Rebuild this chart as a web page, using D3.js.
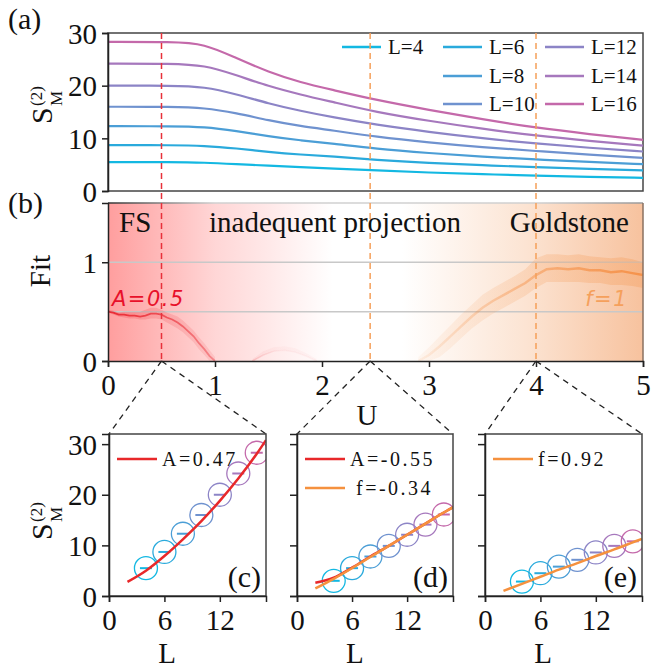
<!DOCTYPE html>
<html>
<head>
<meta charset="utf-8">
<script src="https://cdn.jsdelivr.net/npm/d3@7"></script>
<style>
  body { margin: 0; background: #fff; }
  svg text { font-family: "Liberation Serif", "Times New Roman", serif; fill: #111; }
</style>
</head>
<body>
<div id="chart"></div>
<script>
// ---- data ----
var sizes = [4, 6, 8, 10, 12, 14, 16];
var colors = ["#13b8e2", "#2aaadc", "#4b9ed6", "#6f92cf", "#8c84c6", "#a678bd", "#c469aa"];

// panel (a): S_M^(2) vs U
var uGrid = [0, 0.6, 0.9, 1.2, 1.5, 1.8, 2.1, 2.5, 3.0, 3.5, 4.0, 4.5, 5.0];
var sVals = [
  [5.5, 5.5, 5.4, 5.1, 4.8, 4.5, 4.3, 3.9, 3.5, 3.2, 2.9, 2.7, 2.5],
  [8.7, 8.7, 8.6, 8.1, 7.4, 6.9, 6.6, 5.9, 5.3, 4.9, 4.5, 4.2, 3.9],
  [12.3, 12.3, 12.2, 11.4, 10.4, 9.6, 9.0, 8.0, 7.2, 6.5, 6.0, 5.5, 5.1],
  [16.0, 16.0, 15.8, 14.8, 13.4, 12.3, 11.5, 10.3, 9.2, 8.3, 7.6, 6.9, 6.3],
  [20.0, 20.0, 19.8, 18.4, 16.6, 15.2, 14.0, 12.6, 11.2, 10.0, 9.0, 8.2, 7.5],
  [24.2, 24.2, 23.9, 22.0, 19.9, 18.3, 16.9, 15.0, 13.3, 11.8, 10.5, 9.5, 8.6],
  [28.3, 28.3, 28.0, 25.2, 22.6, 20.6, 19.2, 17.3, 15.4, 13.6, 12.0, 10.8, 9.7]
];

// panel (b): fit quality
var aU  = [0, 0.05, 0.1, 0.15, 0.2, 0.25, 0.3, 0.35, 0.4, 0.45, 0.5, 0.55, 0.6, 0.65, 0.7, 0.75, 0.8, 0.85, 0.9, 0.95, 1.0];
var aFit = [0.50, 0.49, 0.47, 0.47, 0.46, 0.46, 0.45, 0.46, 0.48, 0.48, 0.47, 0.44, 0.42, 0.39, 0.35, 0.30, 0.25, 0.18, 0.12, 0.05, 0.00];
var aLo = [0.49, 0.47, 0.45, 0.44, 0.43, 0.43, 0.42, 0.42, 0.43, 0.43, 0.42, 0.39, 0.36, 0.33, 0.29, 0.24, 0.19, 0.12, 0.06, 0.00, 0.00];
var aHi = [0.52, 0.51, 0.49, 0.50, 0.50, 0.50, 0.50, 0.52, 0.54, 0.54, 0.52, 0.49, 0.47, 0.45, 0.41, 0.36, 0.31, 0.24, 0.18, 0.11, 0.04];
var bU  = [1.35, 1.45, 1.55, 1.65, 1.75, 1.85, 1.95];
var bFit = [0.00, 0.06, 0.10, 0.11, 0.09, 0.05, 0.00];
var bHi = [0.02, 0.10, 0.14, 0.15, 0.13, 0.08, 0.02];
var fU  = [2.9, 3.0, 3.1, 3.2, 3.3, 3.4, 3.5, 3.6, 3.7, 3.8, 3.9, 4.0, 4.1, 4.2, 4.3, 4.4, 4.5, 4.6, 4.7, 4.8, 4.9, 5.0];
var fFit = [0.00, 0.06, 0.15, 0.25, 0.35, 0.45, 0.54, 0.61, 0.67, 0.73, 0.79, 0.87, 0.93, 0.94, 0.93, 0.94, 0.92, 0.92, 0.90, 0.91, 0.89, 0.87];
var fLo = [0.00, 0.00, 0.04, 0.13, 0.23, 0.33, 0.41, 0.48, 0.54, 0.60, 0.66, 0.74, 0.80, 0.80, 0.80, 0.80, 0.79, 0.79, 0.77, 0.77, 0.76, 0.74];
var fHi = [0.04, 0.14, 0.25, 0.36, 0.47, 0.57, 0.67, 0.74, 0.80, 0.86, 0.93, 1.04, 1.08, 1.08, 1.07, 1.08, 1.06, 1.05, 1.04, 1.05, 1.03, 1.00];
var cuts = [0.5, 2.45, 4.0];
var cutColors = ["#e8303a", "#f5a05a", "#f5a05a"];

// panels (c)-(e): S vs L at the three cuts
var ptsC = [5.5, 8.7, 12.3, 16.0, 20.0, 24.2, 28.3];
var ptsD = [3.0, 5.5, 7.8, 9.9, 12.1, 14.1, 16.1];
var ptsE = [2.85, 4.5, 5.8, 7.15, 8.6, 9.9, 10.8];
var fitL = [2, 4, 6, 8, 10, 12, 14, 16, 17];
var fitC_A = [2.8, 5.0, 7.9, 11.2, 14.8, 18.8, 23.2, 28.1, 30.8];
var fitD_A = [2.6, 3.6, 5.6, 7.8, 9.9, 12.1, 14.3, 16.5, 17.5];
var fitD_f = [1.5, 3.4, 5.5, 7.7, 9.9, 12.1, 14.3, 16.5, 17.5];
var fitE_f = [1.0, 2.4, 3.8, 5.2, 6.5, 7.9, 9.2, 10.6, 11.3];

var W = 652, H = 669;
var FONT = "'Liberation Serif', 'Times New Roman', serif";
var svg = d3.select("#chart").append("svg").attr("width", W).attr("height", H);
var defs = svg.append("defs");

var left = 108, right = 643;
var x = d3.scaleLinear().domain([0, 5]).range([left, right]);
var yA = d3.scaleLinear().domain([0, 30]).range([191, 33]);
var yB = d3.scaleLinear().domain([0, 1.6]).range([361, 203]);

// ---- panel (b) background ----
var bg = defs.append("linearGradient").attr("id", "bgGrad")
  .attr("gradientUnits", "userSpaceOnUse")
  .attr("x1", x(0)).attr("x2", x(5)).attr("y1", 0).attr("y2", 0);
[[0, "#ff9e9e"], [0.2, "#ffd6d6"], [0.42, "#ffffff"], [0.55, "#ffffff"], [0.78, "#fce4d3"], [1, "#f7c29e"]]
  .forEach(function(s) { bg.append("stop").attr("offset", s[0]).attr("stop-color", s[1]); });

svg.append("rect")
  .attr("x", x(0)).attr("y", yB(1.6))
  .attr("width", x(5) - x(0)).attr("height", yB(0) - yB(1.6))
  .attr("fill", "url(#bgGrad)");

// gridlines at 0.5 and 1
svg.selectAll(".grid").data([0.5, 1]).enter().append("line")
  .attr("x1", x(0)).attr("x2", x(5))
  .attr("y1", function(d) { return yB(d); }).attr("y2", function(d) { return yB(d); })
  .attr("stroke", "#c8c8c8").attr("stroke-width", 1.5);

// fades for the fit curves
function fade(id, col, x1, x2, o1, o2) {
  var g = defs.append("linearGradient").attr("id", id)
    .attr("gradientUnits", "userSpaceOnUse")
    .attr("x1", x1).attr("x2", x2).attr("y1", 0).attr("y2", 0);
  g.append("stop").attr("offset", 0).attr("stop-color", col).attr("stop-opacity", o1);
  g.append("stop").attr("offset", 1).attr("stop-color", col).attr("stop-opacity", o2);
}
fade("redLine", "#e8202a", x(0), x(1.6), 0.9, 0.04);
fade("redBand", "#e8202a", x(0), x(1.6), 0.22, 0.03);
fade("orLine", "#f58a3c", x(2.8), x(5), 0.05, 0.8);
fade("orBand", "#f5a060", x(2.8), x(5), 0.05, 0.4);

function band(us, lo, hi, fill) {
  var area = d3.area().x(function(d, i) { return x(us[i]); })
    .y0(function(d, i) { return yB(lo[i]); })
    .y1(function(d, i) { return yB(hi[i]); });
  svg.append("path").attr("d", area(us)).attr("fill", fill);
}
function curve(us, vs, stroke, w) {
  var line = d3.line().x(function(d, i) { return x(us[i]); }).y(function(d) { return yB(d); });
  svg.append("path").attr("d", line(vs)).attr("fill", "none")
    .attr("stroke", stroke).attr("stroke-width", w);
}
band(aU, aLo, aHi, "url(#redBand)");
curve(aU, aFit, "url(#redLine)", 1.8);
band(bU, bFit, bHi, "url(#redBand)");
curve(bU, bFit, "url(#redLine)", 1.5);
band(fU, fLo, fHi, "url(#orBand)");
curve(fU, fFit, "url(#orLine)", 2.5);

// panel (b) frame: top + right softer
var fr = defs.append("linearGradient").attr("id", "frameGrad")
  .attr("gradientUnits", "userSpaceOnUse")
  .attr("x1", x(0)).attr("x2", x(5)).attr("y1", 0).attr("y2", 0);
[[0, "#333"], [0.2, "#d0d0d0"], [0.8, "#d0d0d0"], [1, "#999"]]
  .forEach(function(s) { fr.append("stop").attr("offset", s[0]).attr("stop-color", s[1]); });
svg.append("line").attr("x1", x(0)).attr("x2", x(5)).attr("y1", yB(1.6)).attr("y2", yB(1.6))
  .attr("stroke", "url(#frameGrad)").attr("stroke-width", 1.5);
svg.append("line").attr("x1", x(5)).attr("x2", x(5)).attr("y1", yB(1.6)).attr("y2", yB(0))
  .attr("stroke", "#8a7060").attr("stroke-width", 1.5);

// axes of (b)
var axB = svg.append("g").attr("transform", "translate(0," + yB(0) + ")")
  .call(d3.axisBottom(x).ticks(5).tickSize(6).tickPadding(6));
var ayB = svg.append("g").attr("transform", "translate(" + x(0) + ",0)")
  .call(d3.axisLeft(yB).tickValues([0, 1]).tickFormat(d3.format("d")).tickSize(6).tickPadding(5));

// ---- panel (a) ----
svg.append("rect").attr("x", x(0)).attr("y", yA(30))
  .attr("width", x(5) - x(0)).attr("height", yA(0) - yA(30))
  .attr("fill", "none").attr("stroke", "#444").attr("stroke-width", 1.5);

var lineA = d3.line().curve(d3.curveBasis)
  .x(function(d, i) { return x(uGrid[i]); }).y(function(d) { return yA(d); });
sVals.forEach(function(vals, k) {
  svg.append("path").attr("d", lineA(vals)).attr("fill", "none")
    .attr("stroke", colors[k]).attr("stroke-width", 2.2);
});
var ayA = svg.append("g").attr("transform", "translate(" + x(0) + ",0)")
  .call(d3.axisLeft(yA).tickValues([0, 10, 20, 30]).tickSize(6).tickPadding(5));

// legend of (a)
var legPos = [[342, 47], [443, 47], [443, 76], [443, 104], [545, 47], [545, 76], [545, 104]];
sizes.forEach(function(L, k) {
  var p = legPos[k];
  svg.append("line").attr("x1", p[0]).attr("x2", p[0] + 39).attr("y1", p[1]).attr("y2", p[1])
    .attr("stroke", colors[k]).attr("stroke-width", 2.5);
  svg.append("text").attr("x", p[0] + 46).attr("y", p[1] + 7)
    .attr("font-size", 21).text("L=" + L);
});

// vertical dashed cuts through (a) and (b)
cuts.forEach(function(u, k) {
  svg.append("line").attr("x1", x(u)).attr("x2", x(u)).attr("y1", yA(30)).attr("y2", yB(0))
    .attr("stroke", cutColors[k]).attr("stroke-width", 1.5).attr("stroke-dasharray", "6,4");
});

function styleAxis(g) {
  g.select(".domain").attr("stroke", "#222").attr("stroke-width", 1.5);
  g.selectAll(".tick line").attr("stroke", "#222").attr("stroke-width", 1.5);
  g.selectAll("text").style("font-family", FONT).attr("font-size", 29).attr("fill", "#111");
}
[axB, ayB, ayA].forEach(styleAxis);
axB.selectAll("text").attr("dy", "0.75em");
ayA.selectAll("text").attr("dy", "0.35em");
ayB.selectAll("text").attr("dy", "0.35em");

// annotations
svg.append("text").attr("x", 8).attr("y", 29).attr("font-size", 30).text("(a)");
svg.append("text").attr("x", 8).attr("y", 213).attr("font-size", 30).text("(b)");
svg.append("text").attr("x", 119).attr("y", 232).attr("font-size", 29).text("FS");
svg.append("text").attr("x", 335).attr("y", 232).attr("font-size", 29).attr("text-anchor", "middle").text("inadequent projection");
svg.append("text").attr("x", 629).attr("y", 232).attr("font-size", 29).attr("text-anchor", "end").text("Goldstone");
svg.append("text").attr("x", 112).attr("y", 306).attr("font-size", 21).attr("font-style", "italic")
  .style("font-family", "'DejaVu Sans', sans-serif").style("fill", "#e8102a").attr("letter-spacing", 1.5).text("A=0.5");
svg.append("text").attr("x", 628).attr("y", 306).attr("font-size", 21).attr("font-style", "italic")
  .attr("text-anchor", "end")
  .style("font-family", "'DejaVu Sans', sans-serif").style("fill", "#f5a05c").attr("letter-spacing", 1.5).text("f=1");
svg.append("text").attr("x", 40).attr("y", 271).attr("font-size", 29).attr("text-anchor", "middle")
  .attr("transform", "rotate(-90,40,271)").attr("dy", "0.35em").text("Fit");
svg.append("text").attr("x", 367).attr("y", 425).attr("font-size", 29).attr("text-anchor", "middle").text("U");

function sLabel(tx, ty) {
  var g = svg.append("g").attr("transform", "translate(" + tx + "," + ty + ") rotate(-90)");
  g.append("text").attr("x", 0).attr("y", 0).attr("font-size", 30).text("S");
  g.append("text").attr("x", 18).attr("y", 10).attr("font-size", 17).text("M");
  g.append("text").attr("x", 18).attr("y", -10).attr("font-size", 17).text("(2)");
}
sLabel(52, 124);

// ---- bottom panels ----
var panels = [
  { x0: 109, x1: 266, pts: ptsC, fits: [[fitC_A, "#e8282a"]], leg: [["A=0.47", "#e8282a"]], tag: "(c)", yLab: true, apex: cuts[0] },
  { x0: 297, x1: 453, pts: ptsD, fits: [[fitD_A, "#e8282a"], [fitD_f, "#f5913e"]], leg: [["A=-0.55", "#e8282a"], ["f=-0.34", "#f5913e"]], tag: "(d)", yLab: false, apex: cuts[1] },
  { x0: 485, x1: 642, pts: ptsE, fits: [[fitE_f, "#f5913e"]], leg: [["f=0.92", "#f5913e"]], tag: "(e)", yLab: false, apex: cuts[2] }
];
var pTop = 434, pBot = 596;
var yL = d3.scaleLinear().domain([0, 32]).range([pBot, pTop]);

panels.forEach(function(p) {
  var xs = d3.scaleLinear().domain([0, 17]).range([p.x0, p.x1]);
  var clipId = "clip" + p.tag.charAt(1);
  defs.append("clipPath").attr("id", clipId).append("rect")
    .attr("x", p.x0).attr("y", pTop).attr("width", p.x1 - p.x0).attr("height", pBot - pTop);

  // connectors from panel (b)
  [p.x0, p.x1].forEach(function(cx) {
    svg.append("line").attr("x1", x(p.apex)).attr("y1", yB(0)).attr("x2", cx).attr("y2", pTop)
      .attr("stroke", "#222").attr("stroke-width", 1.3).attr("stroke-dasharray", "6,5");
  });

  var g = svg.append("g").attr("clip-path", "url(#" + clipId + ")");
  var ln = d3.line().curve(d3.curveMonotoneX)
    .x(function(d, i) { return xs(fitL[i]); }).y(function(d) { return yL(d); });

  p.pts.forEach(function(v, k) {
    g.append("circle").attr("cx", xs(sizes[k])).attr("cy", yL(v)).attr("r", 11.5)
      .attr("fill", "none").attr("stroke", colors[k]).attr("stroke-width", 1.3);
    g.append("line").attr("x1", xs(sizes[k]) - 6).attr("x2", xs(sizes[k]) + 6)
      .attr("y1", yL(v)).attr("y2", yL(v)).attr("stroke", colors[k]).attr("stroke-width", 2);
  });
  p.fits.forEach(function(f) {
    g.append("path").attr("d", ln(f[0])).attr("fill", "none")
      .attr("stroke", f[1]).attr("stroke-width", 2.5);
  });

  svg.append("rect").attr("x", p.x0).attr("y", pTop).attr("width", p.x1 - p.x0).attr("height", pBot - pTop)
    .attr("fill", "none").attr("stroke", "#444").attr("stroke-width", 1.5);

  var ax = svg.append("g").attr("transform", "translate(0," + pBot + ")")
    .call(d3.axisBottom(xs).tickValues([0, 6, 12]).tickSize(6).tickPadding(6));
  var ay = svg.append("g").attr("transform", "translate(" + p.x0 + ",0)")
    .call(d3.axisLeft(yL).tickValues([0, 10, 20, 30]).tickSize(7).tickPadding(5)
      .tickFormat(p.yLab ? d3.format("d") : function() { return ""; }));
  [ax, ay].forEach(styleAxis);
  ax.selectAll("text").attr("dy", "0.75em");
  ay.selectAll("text").attr("dy", "0.35em");

  p.leg.forEach(function(l, k) {
    var ly = 459 + k * 29;
    svg.append("line").attr("x1", p.x0 + 8).attr("x2", p.x0 + 48).attr("y1", ly).attr("y2", ly)
      .attr("stroke", l[1]).attr("stroke-width", 2.5);
    svg.append("text").attr("x", p.x0 + (k === 1 ? 59 : 53)).attr("y", ly + 7).attr("font-size", 20)
      .attr("letter-spacing", 2.5).text(l[0]);
  });

  svg.append("text").attr("x", p.x1 - 5).attr("y", 587).attr("font-size", 30)
    .attr("text-anchor", "end").text(p.tag);
  svg.append("text").attr("x", xs(6.3)).attr("y", 663).attr("font-size", 29)
    .attr("text-anchor", "middle").text("L");
});

sLabel(52, 540);
</script>
</body>
</html>
